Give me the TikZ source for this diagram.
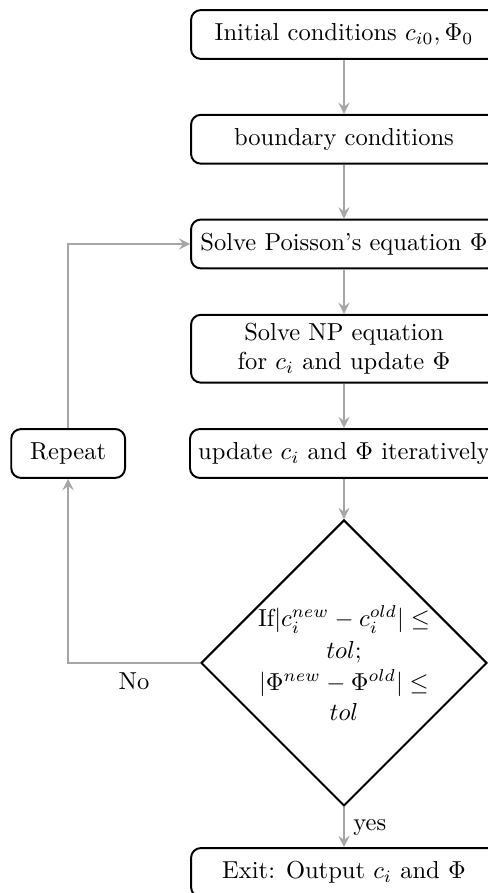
\documentclass[tikz,border=0pt]{standalone}
\usepackage{amsmath, amssymb}
\usepackage{tikz}
\usetikzlibrary{arrows.meta, positioning, shapes.geometric}

\begin{document}
\begin{tikzpicture}[
    node distance=1.5cm, on grid,
    box/.style={draw, thick, rounded corners, align=center,
                minimum width=4.38cm, minimum height=0.7cm},
    rbox/.style={draw, thick, rounded corners, align=center,
                 minimum width=1.63cm, minimum height=0.7cm},
    dbox/.style={draw, thick, diamond, aspect=1, align=center,
                 inner sep=0pt, minimum size=4.07cm},
    arrow/.style={->, >=stealth, line width=1pt, color=gray!70}]

\useasboundingbox (-4.926,0.494) rectangle (2.062,-12.294);

\node[box] (init) {Initial conditions $c_{i0}, \Phi_0$};
\node[box, below=of init] (bc) {boundary conditions};
\node[box, below=of bc] (poisson) {Solve Poisson's equation $\Phi$};
\node[box, below=of poisson] (np) {Solve NP equation\\for $c_i$ and update $\Phi$};
\node[box, below=of np] (update) {update $c_i$ and $\Phi$ iteratively};
\node[dbox, below=3cm of update] (check) {If$|c_i^{new}-c_i^{old}|\leq$\\[1pt]$tol$;\\[1pt]$|\Phi^{new}-\Phi^{old}|\leq$\\$tol$};
\node[box, below=3cm of check] (exitbox) {Exit: Output $c_i$ and $\Phi$};
\node[rbox, left=3.95cm of update] (repeat) {Repeat};

\draw[arrow] (init) -- (bc);
\draw[arrow] (bc) -- (poisson);
\draw[arrow] (poisson) -- (np);
\draw[arrow] (np) -- (update);
\draw[arrow] (update) -- (check);
\draw[arrow] (check) -- node[right, text=black] {yes} (exitbox);
\draw[arrow] (check.west) -| node[pos=0.25, below, text=black] {No} (repeat.south);
\draw[arrow] (repeat.north) |- (poisson.west);
\end{tikzpicture}
\end{document}
